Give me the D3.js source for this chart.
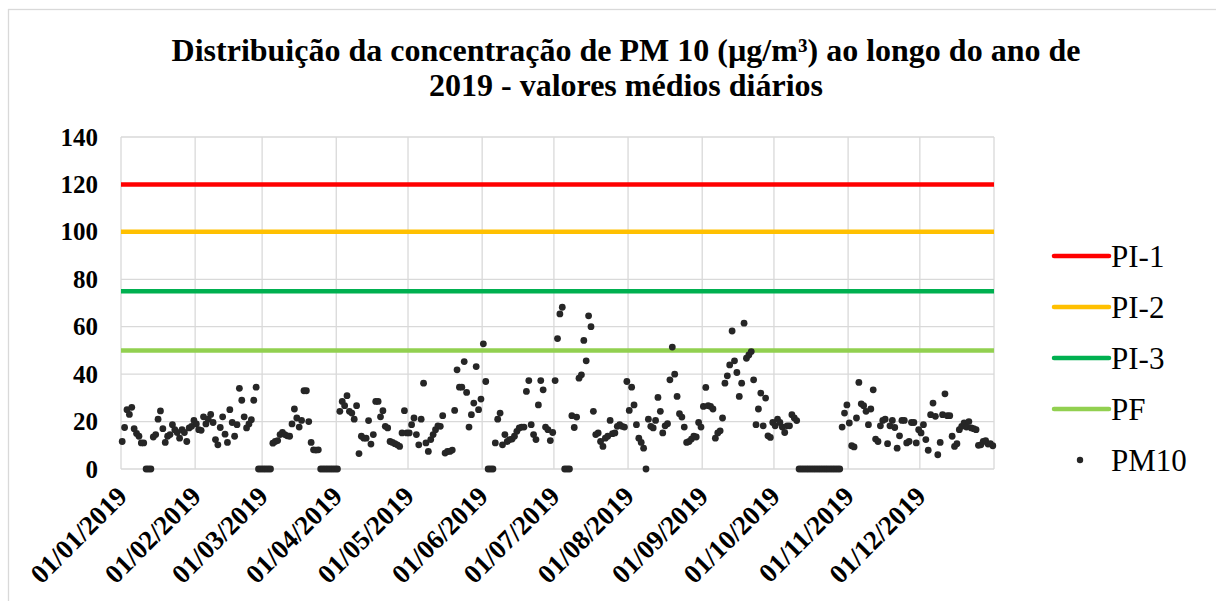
<!DOCTYPE html>
<html>
<head>
<meta charset="utf-8">
<script src="https://cdn.jsdelivr.net/npm/d3@7"></script>
<style>
  body { margin: 0; background: #fff; }
</style>
</head>
<body>
<script>
"use strict";

// daily PM10 means, one array per month
let jan = [11.6, 17.5, 25, 23, 26, 17, 15, 13.8, 11, 11, 0, 0, 0, 13.5, 14.5, 21, 24.5, 17, 11.2, 13.8, 14.5, 18.7, 16.6, 15.4, 13, 16.6, 15.4, 11.6, 17.3, 18, 20.5];
let feb = [19, 16.6, 16.3, 22, 19, 21, 23, 19.6, 12.4, 10.2, 17.5, 22, 14.7, 11.2, 25, 19.6, 13.8, 18.7, 34, 29, 22, 17.3, 19, 20.8, 29, 34.5, 0, 0];
let mar = [0, 0, 0, 0, 10.9, 11.6, 12, 14.5, 15.4, 14.5, 14, 13.8, 19, 25.3, 21.5, 17.7, 20.5, 33, 33, 20, 11.2, 8.1, 8, 8.1, 0, 0, 0, 0, 0, 0, 0];
let apr = [0, 24.3, 28.5, 26.7, 30.9, 24.3, 23.6, 21, 26.7, 6.5, 13.8, 13, 13, 20.4, 10.5, 14.5, 28.5, 28.5, 22, 24.6, 18, 17.3, 11.6, 11.2, 10.7, 10.2, 9.5, 15.2, 24.6, 15.2];
let may = [15.2, 18.7, 21.5, 14.5, 10.2, 21, 36.2, 11, 7.4, 12.4, 14.5, 16.6, 18.2, 18, 22.5, 6.7, 7.4, 7.4, 8, 24.7, 41.8, 34.5, 34.5, 45.3, 32.3, 17.7, 22.9, 27.8, 43.2, 25, 29.5];
let jun = [52.8, 36.9, 0, 0, 0, 11, 21, 23.6, 10.2, 14.5, 11.6, 12.4, 12.6, 13.8, 15.9, 17.3, 17.7, 17.7, 32.7, 37.3, 18.7, 14.5, 12.4, 27, 37.3, 33.4, 17.7, 16.6, 12, 15.4];
let jul = [37.3, 55, 65.4, 68.2, 0, 0, 0, 22.5, 17.5, 21.9, 38.3, 39.7, 54.2, 45.6, 64.6, 60, 24.3, 14.5, 15.2, 11.6, 9.5, 13, 13.8, 20.5, 14.9, 15.2, 18, 18.7, 18, 17.7, 36.9];
let aug = [24.7, 34.5, 27, 18.7, 13, 11.2, 8.8, 0, 21, 18, 17.3, 20.5, 30.2, 24.3, 15.2, 18.2, 19.1, 37.6, 51.4, 40, 30.6, 23.3, 21.9, 17.7, 11.2, 11.6, 12.6, 13.8, 13.5, 19.6, 17.7];
let sep = [26.4, 34.4, 26.7, 26.4, 25.3, 13, 15.2, 16.1, 21.5, 36.2, 39.3, 43.9, 58.2, 45.6, 40.7, 30.6, 36.2, 61.5, 46.7, 48.1, 49.5, 37.6, 18.7, 25.3, 32, 18.2, 29.9, 14, 13.3, 19.6];
let oct = [18.2, 21, 19.6, 17.7, 15.4, 18.2, 18.2, 22.9, 21.5, 20.4, 0, 0, 0, 0, 0, 0, 0, 0, 0, 0, 0, 0, 0, 0, 0, 0, 0, 0, 17.7, 23.6, 27];
let nov = [19.4, 9.8, 9.3, 21.5, 36.5, 27.5, 26.7, 24.3, 18.7, 25.3, 33.4, 12.6, 11.6, 18.2, 20.5, 21, 10.7, 18.2, 20.5, 17.5, 8.8, 14, 20.5, 20.5, 11, 11.6, 19.6, 19.6, 11, 16.6];
let dec = [15.2, 18.7, 12.4, 7.9, 22.9, 27.8, 22.2, 6, 11.2, 22.9, 31.7, 22.5, 22.5, 13.8, 9.5, 10.7, 16.6, 18, 19.4, 17.7, 20, 17.3, 17, 16.6, 10, 10.2, 11.6, 12, 10.5, 10.7, 9.8];

let pm10 = [].concat(jan, feb, mar, apr, may, jun, jul, aug, sep, oct, nov, dec);

// legal limits
let limitNames = ['PI-1', 'PI-2', 'PI-3', 'PF'];
let limitValues = [120, 100, 75, 50];
let limitColors = ['#ff0000', '#ffc000', '#00b050', '#92d050'];

let yTicks = [0, 20, 40, 60, 80, 100, 120, 140];
let monthStarts = ['01/01/2019', '01/02/2019', '01/03/2019', '01/04/2019', '01/05/2019', '01/06/2019',
    '01/07/2019', '01/08/2019', '01/09/2019', '01/10/2019', '01/11/2019', '01/12/2019'];

let titleLines = ['Distribuição da concentração de PM 10 (µg/m³) ao longo do ano de', '2019 - valores médios diários'];

(function() {

let width = 1216;
let height = 601;
let left = 121, right = 994, top = 137, bottom = 469;
let serif = '"Liberation Serif", "Times New Roman", "DejaVu Serif", serif';

let parseDay = d3.timeParse('%d/%m/%Y');
let yearStart = parseDay('01/01/2019');

let points = pm10.map(function(v, i) {
    return { date: d3.timeDay.offset(yearStart, i), value: v };
});

let x = d3.scaleTime()
    .domain([yearStart, parseDay('01/01/2020')])
    .range([left, right]);

let y = d3.scaleLinear()
    .domain([0, 140])
    .range([bottom, top]);

let svg = d3.select('body')
    .append('svg')
    .attr('width', width)
    .attr('height', height)
    .style('font-family', serif);

// chart frame (only left/top edges visible in the crop)
svg.append('rect')
    .attr('x', 8.5)
    .attr('y', 9.5)
    .attr('width', 1220)
    .attr('height', 620)
    .attr('fill', '#fff')
    .attr('stroke', '#d9d9d9')
    .attr('stroke-width', 1.3);

// title
svg.append('text')
    .attr('x', 626)
    .attr('y', 61)
    .attr('text-anchor', 'middle')
    .style('font-family', serif)
    .style('font-size', '32px')
    .style('font-weight', 'bold')
    .selectAll('tspan')
    .data(titleLines)
    .enter()
    .append('tspan')
    .attr('x', 626)
    .attr('dy', function(d, i) { return i === 0 ? 0 : 35; })
    .text(function(d) { return d; });

// gridlines
let grid = svg.append('g')
    .attr('stroke', '#d9d9d9')
    .attr('stroke-width', 1.3);

grid.selectAll('.hgrid')
    .data(yTicks)
    .enter()
    .append('line')
    .attr('class', 'hgrid')
    .attr('x1', left)
    .attr('x2', right)
    .attr('y1', function(d) { return y(d); })
    .attr('y2', function(d) { return y(d); });

grid.selectAll('.vgrid')
    .data(monthStarts.concat(['01/01/2020']))
    .enter()
    .append('line')
    .attr('class', 'vgrid')
    .attr('x1', function(d) { return x(parseDay(d)); })
    .attr('x2', function(d) { return x(parseDay(d)); })
    .attr('y1', top)
    .attr('y2', bottom);

// y axis labels
let yAxis = svg.append('g')
    .attr('transform', 'translate(' + left + ',0)')
    .call(d3.axisLeft(y).tickValues(yTicks).tickSize(0).tickPadding(23));
yAxis.attr('font-family', null);
yAxis.select('.domain').remove();
yAxis.selectAll('text')
    .attr('fill', '#000')
    .style('font-size', '25px')
    .style('font-weight', 'bold')
    .style('font-family', serif);

// x axis labels, rotated
let xAxis = svg.append('g')
    .attr('transform', 'translate(0,' + bottom + ')')
    .call(d3.axisBottom(x)
        .tickValues(monthStarts.map(parseDay))
        .tickFormat(d3.timeFormat('%d/%m/%Y'))
        .tickSize(0));
xAxis.attr('font-family', null);
xAxis.select('.domain').remove();
xAxis.selectAll('text')
    .attr('fill', '#000')
    .attr('text-anchor', 'end')
    .attr('dy', 0)
    .attr('y', 0)
    .attr('transform', 'translate(7,29) rotate(-45)')
    .style('font-size', '27px')
    .style('font-weight', 'bold')
    .style('font-family', serif);

// limit lines
svg.selectAll('.limit')
    .data(limitValues)
    .enter()
    .append('line')
    .attr('class', 'limit')
    .attr('x1', left)
    .attr('x2', right)
    .attr('y1', function(d) { return y(d); })
    .attr('y2', function(d) { return y(d); })
    .attr('stroke', function(d, i) { return limitColors[i]; })
    .attr('stroke-width', 4.5);

// daily points
svg.selectAll('.pt')
    .data(points)
    .enter()
    .append('circle')
    .attr('class', 'pt')
    .attr('cx', function(d) { return x(d3.timeHour.offset(d.date, 12)); })
    .attr('cy', function(d) { return y(d.value); })
    .attr('r', 3.4)
    .attr('fill', '#262626');

// legend
let legend = svg.append('g');
let legendY = [256, 307, 358, 409, 460];

let items = legend.selectAll('.item')
    .data(limitNames)
    .enter()
    .append('g')
    .attr('class', 'item')
    .attr('transform', function(d, i) { return 'translate(0,' + legendY[i] + ')'; });

items.append('line')
    .attr('x1', 1054)
    .attr('x2', 1109)
    .attr('stroke', function(d, i) { return limitColors[i]; })
    .attr('stroke-width', 4.5)
    .attr('stroke-linecap', 'round');

items.append('text')
    .attr('x', 1111)
    .attr('y', 11)
    .style('font-family', serif)
    .style('font-size', '31px')
    .text(function(d) { return d; });

let pmItem = legend.append('g')
    .attr('transform', 'translate(0,' + legendY[4] + ')');
pmItem.append('circle')
    .attr('cx', 1080)
    .attr('cy', 0)
    .attr('r', 3.2)
    .attr('fill', '#262626');
pmItem.append('text')
    .attr('x', 1111)
    .attr('y', 11)
    .style('font-family', serif)
    .style('font-size', '31px')
    .text('PM10');

})();
</script>
</body>
</html>
